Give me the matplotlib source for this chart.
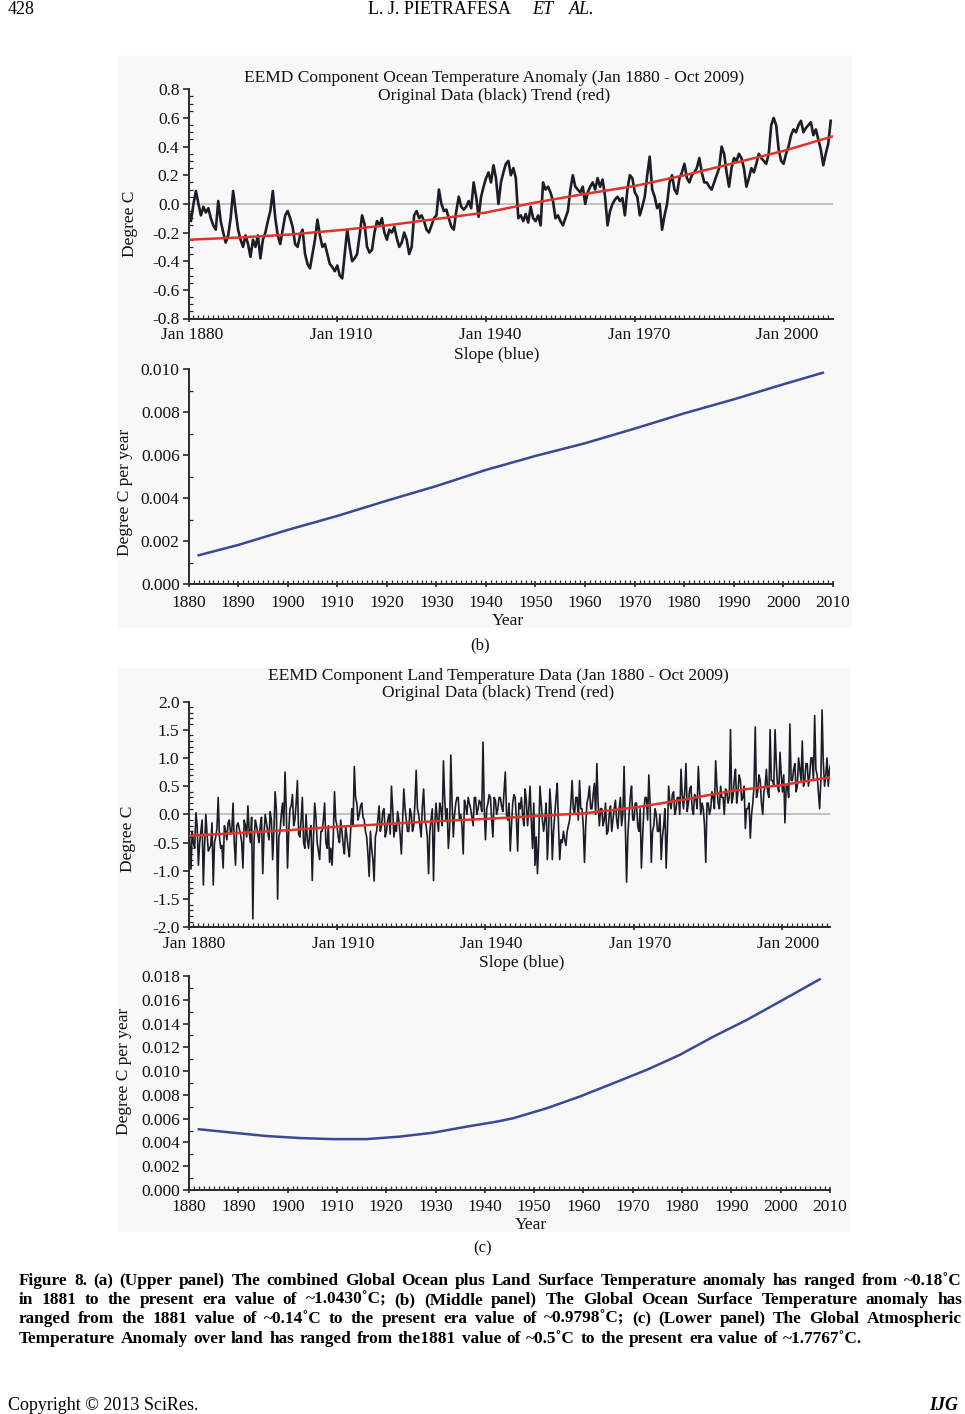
import numpy as np
import matplotlib
matplotlib.use('Agg')
import matplotlib.pyplot as plt
from matplotlib.ticker import MultipleLocator
from matplotlib.patches import Rectangle
from matplotlib.transforms import ScaledTranslation

plt.rcParams['font.family'] = ['Liberation Serif', 'DejaVu Serif']
plt.rcParams['axes.unicode_minus'] = False

# ---------------- data ----------------
# Ocean anomaly, half-year steps from 1880.0
ocean_values = [
    -0.05, -0.12, 0.00, 0.09, 0.00, -0.08, -0.02, -0.06, -0.03, -0.10,
    -0.15, -0.18, 0.02, -0.12, -0.20, -0.27, -0.22, -0.10, 0.09, -0.05,
    -0.18, -0.25, -0.30, -0.22, -0.28, -0.37, -0.25, -0.30, -0.22, -0.38,
    -0.25, -0.20, -0.12, -0.05, 0.09, -0.10, -0.22, -0.28, -0.18, -0.08,
    -0.05, -0.10, -0.16, -0.28, -0.30, -0.22, -0.18, -0.35, -0.42, -0.45,
    -0.35, -0.25, -0.11, -0.22, -0.30, -0.28, -0.35, -0.42, -0.44, -0.47,
    -0.43, -0.50, -0.52, -0.35, -0.18, -0.30, -0.40, -0.38, -0.35, -0.22,
    -0.08, -0.14, -0.30, -0.34, -0.32, -0.20, -0.12, -0.15, -0.10, -0.20,
    -0.25, -0.18, -0.20, -0.16, -0.24, -0.30, -0.27, -0.20, -0.25, -0.35,
    -0.30, -0.08, -0.05, -0.10, -0.08, -0.12, -0.18, -0.20, -0.15, -0.10,
    -0.08, 0.10, 0.00, -0.05, -0.04, -0.10, -0.16, -0.18, -0.05, 0.05,
    -0.02, -0.04, -0.02, 0.02, -0.03, 0.15, 0.05, -0.09, 0.05, 0.12,
    0.18, 0.22, 0.15, 0.27, 0.18, 0.00, 0.15, 0.22, 0.28, 0.30,
    0.20, 0.25, 0.18, -0.10, -0.08, -0.12, -0.07, -0.13, -0.02, -0.10,
    -0.12, -0.08, -0.15, 0.15, 0.10, 0.12, 0.08, 0.02, -0.10, -0.08,
    -0.12, -0.15, -0.10, -0.05, 0.10, 0.20, 0.12, 0.10, 0.08, 0.12,
    0.00, 0.08, 0.12, 0.15, 0.10, 0.18, 0.12, 0.17, 0.05, -0.15,
    -0.05, 0.00, 0.03, 0.05, 0.02, 0.04, -0.08, 0.10, 0.20, 0.18,
    0.08, 0.05, -0.08, -0.02, 0.05, 0.20, 0.33, 0.10, 0.05, -0.03,
    0.00, -0.18, -0.08, 0.00, 0.15, 0.20, 0.10, 0.07, 0.18, 0.22,
    0.28, 0.18, 0.15, 0.20, 0.22, 0.25, 0.32, 0.22, 0.15, 0.15,
    0.12, 0.10, 0.15, 0.20, 0.25, 0.40, 0.35, 0.22, 0.12, 0.25,
    0.32, 0.30, 0.35, 0.32, 0.25, 0.12, 0.18, 0.25, 0.22, 0.28,
    0.35, 0.32, 0.30, 0.28, 0.35, 0.55, 0.60, 0.55, 0.38, 0.30,
    0.28, 0.35, 0.40, 0.48, 0.52, 0.50, 0.55, 0.58, 0.50, 0.53,
    0.55, 0.57, 0.48, 0.52, 0.45, 0.38, 0.27, 0.35, 0.42, 0.58,
]
ocean_trend_years = [1880, 1890, 1900, 1910, 1920, 1930, 1940, 1950, 1960, 1970, 1980, 1990, 2000, 2009.75]
ocean_trend_values = [-0.25, -0.235, -0.215, -0.185, -0.15, -0.105, -0.06, 0.01, 0.07, 0.125, 0.20, 0.285, 0.37, 0.47]

ocean_slope_years = [1882, 1890, 1900, 1910, 1920, 1930, 1940, 1950, 1960, 1970, 1980, 1990, 2000, 2008]
ocean_slope_values = [0.00135, 0.00183, 0.00253, 0.00318, 0.00389, 0.00457, 0.00532, 0.00597, 0.00656,
                      0.00724, 0.00795, 0.00860, 0.00930, 0.00984]

# Land anomaly at whole/half years (1880.0, 1880.5, ...): peaks and spikes
land_values = [
    -0.2, -0.97, -0.5, 0.03, -0.9, -0.3, -1.25, 0.0, -0.65, -0.55,
    -1.25, -0.4, 0.3, -0.6, -0.95, -0.3, -0.15, -0.35, 0.2, -0.9,
    -0.15, -0.35, -0.95, -0.2, 0.15, -0.5, -1.85, -0.1, -0.35, -0.2,
    -1.05, 0.0, -0.3, 0.05, -0.8, 0.4, -1.5, -0.3, 0.2, 0.75,
    -0.95, 0.1, 0.35, -0.1, 0.6, -0.4, 0.3, -0.6, -0.45, -0.3,
    -1.17, 0.2, -0.5, -0.8, -0.3, 0.2, -0.6, -0.85, -0.9, 0.4,
    -0.2, -0.5, -0.3, -0.7, -0.4, -0.75, 0.1, 0.85, 0.2, 0.0,
    0.2, -0.1, -0.4, -1.1, -0.6, -1.18, -0.3, 0.15, -0.2, 0.1,
    -0.3, 0.0, 0.5, -0.4, -0.3, -0.1, -0.7, 0.45, -0.1, -0.3,
    0.0, -0.2, 0.78, 0.0, -0.4, 0.45, -0.2, -1.05, -0.1, -1.17,
    0.2, -0.3, 0.1, 0.95, -0.1, -0.6, 1.05, -0.4, 0.2, 0.3,
    0.0, -0.7, 0.15, 0.3, 0.1, -0.2, 0.3, 0.1, 0.2, 1.28,
    -0.45, 0.2, 0.3, -0.4, 0.25, 0.1, 0.3, 0.05, 0.75, -0.1,
    -0.65, 0.2, 0.3, -0.65, 0.1, 0.0, 0.45, -0.2, 0.5, -0.6,
    -0.9, -1.05, 0.5, -0.1, -0.1, -0.8, 0.45, -0.8, 0.0, 0.55,
    -0.8, -0.5, -0.45, -0.3, -0.1, 0.6, 0.0, 0.3, 0.6, 0.1,
    -0.85, 0.2, 0.5, 0.1, 0.55, 0.9, -0.2, 0.1, -0.1, -0.35,
    0.0, -0.3, 0.1, -0.1, 0.1, -0.2, 0.85, -1.2, 0.0, 0.5,
    -0.1, 0.2, -0.3, -0.95, 0.1, 0.3, 0.7, -0.85, -0.2, 0.0,
    -0.3, -0.8, -0.2, -0.95, 0.5, 0.1, 0.4, 0.1, 0.3, 0.8,
    0.1, 0.9, 0.2, 0.5, 0.0, 0.3, 0.85, 0.0, 0.1, -0.85,
    0.2, 0.1, 0.3, 0.95, 0.2, 0.5, 0.3, 0.45, 0.2, 1.5,
    0.3, 0.8, 0.4, 0.6, 0.3, -0.25, 0.1, -0.42, 0.2, 1.55,
    0.4, 0.6, 0.0, 0.5, 0.4, 1.5, 0.6, 1.5, 0.5, 1.1,
    0.4, -0.15, 0.5, 1.6, 0.6, 0.9, 0.5, 0.8, 1.3, 0.6,
    0.9, 0.7, 1.0, 1.75, 0.7, 0.1, 1.85, 0.5, 1.0, 0.8,
]
# Land anomaly at quarter offsets (1880.25, 1880.75, ...): dense core band
land_mid_values = [
    -0.45, -0.3, -0.6, -0.2, -0.5, -0.1, -0.55, -0.35, -0.6, -0.15,
    -0.5, -0.25, -0.4, -0.55, -0.2, -0.45, -0.1, -0.3, -0.5, -0.2,
    -0.25, -0.5, -0.1, -0.4, -0.3, -0.05, -0.45, -0.2, -0.5, -0.05,
    -0.35, -0.15, -0.45, -0.1, -0.3, 0.1, -0.4, 0.0, -0.2, 0.1,
    -0.3, 0.15, -0.2, 0.2, -0.35, -0.1, -0.5, 0.0, -0.6, -0.2,
    -0.4, -0.05, -0.65, -0.3, -0.1, -0.5, -0.2, -0.6, -0.4, -0.1,
    -0.4, -0.1, -0.55, -0.2, -0.6, -0.3, -0.2, 0.3, -0.1, 0.15,
    -0.05, -0.3, -0.7, -0.3, -0.8, -0.4, -0.1, -0.3, 0.05, -0.4,
    -0.1, -0.35, 0.1, -0.2, 0.05, -0.35, -0.1, 0.1, -0.3, 0.1,
    -0.3, 0.2, 0.1, -0.2, 0.15, -0.1, -0.4, -0.3, 0.1, -0.2,
    -0.1, 0.2, -0.2, 0.3, 0.1, -0.25, 0.2, 0.0, 0.3, -0.1,
    -0.2, 0.25, 0.0, 0.2, -0.05, 0.3, 0.0, 0.25, 0.05, 0.1,
    0.1, 0.35, -0.1, 0.3, 0.0, 0.3, 0.15, 0.4, 0.0, 0.2,
    -0.2, 0.35, -0.1, 0.2, 0.3, -0.2, 0.25, 0.1, -0.1, 0.2,
    -0.4, -0.5, 0.2, -0.3, 0.2, -0.3, 0.1, -0.3, 0.3, -0.2,
    -0.45, -0.3, -0.55, -0.2, 0.2, 0.1, 0.3, -0.1, 0.1, -0.2,
    -0.2, 0.3, 0.1, 0.35, 0.0, 0.2, 0.1, -0.2, 0.2, -0.3,
    0.15, -0.1, 0.25, -0.25, 0.3, 0.0, -0.2, -0.4, 0.3, -0.1,
    0.2, -0.2, 0.1, -0.4, 0.3, -0.1, 0.2, -0.3, 0.1, -0.3,
    0.0, -0.4, 0.1, -0.3, 0.2, 0.35, 0.0, 0.3, 0.0, 0.35,
    0.4, 0.05, 0.45, 0.1, 0.35, 0.1, 0.4, 0.2, -0.2, 0.2,
    0.0, 0.4, 0.1, 0.5, 0.1, 0.3, 0.0, 0.4, 0.3, 0.2,
    0.6, 0.2, 0.7, 0.25, 0.5, 0.1, 0.2, 0.0, 0.5, 0.3,
    0.7, 0.2, 0.4, 0.8, 0.3, 0.6, 0.5, 0.9, 0.4, 0.7,
    0.7, 0.5, 0.3, 0.6, 0.8, 0.4, 1.0, 0.6, 0.5, 0.9,
    0.5, 1.0, 0.6, 0.8, 0.4, 0.6, 0.9, 0.7, 0.5, 0.9,
]
land_trend_years = [1880, 1890, 1900, 1910, 1920, 1930, 1940, 1950, 1960, 1970, 1980, 1990, 2000, 2009.75]
land_trend_values = [-0.38, -0.33, -0.28, -0.22, -0.17, -0.12, -0.08, -0.03, 0.02, 0.12, 0.26, 0.42, 0.52, 0.66]

land_slope_years = [1882, 1888.9, 1895.7, 1902.5, 1909.2, 1916, 1922.7, 1929.5, 1936.3, 1942.4,
                    1945.7, 1952.5, 1959.2, 1966.0, 1972.8, 1979.5, 1986.3, 1993.1, 1999.8, 2007.9]
land_slope_values = [0.00511, 0.00482, 0.00454, 0.00437, 0.00428, 0.00428, 0.00449, 0.00482, 0.00533, 0.00575,
                     0.00603, 0.00687, 0.00785, 0.00897, 0.0101, 0.01136, 0.01289, 0.0143, 0.01584, 0.01772]

ocean_ticks = [1880, 1910, 1940, 1970, 2000]
ocean_ticklabels = ['Jan 1880', 'Jan 1910', 'Jan 1940', 'Jan 1970', 'Jan 2000']
year_ticks = list(range(1880, 2011, 10))

caption_lines = [
    "Figure 8. (a) (Upper panel) The combined Global Ocean plus Land Surface Temperature anomaly has ranged from ~0.18\u02daC",
    "in 1881 to the present era value of ~1.0430\u02daC; (b) (Middle panel) The Global Ocean Surface Temperature anomaly has",
    "ranged from the 1881 value of ~0.14\u02daC to the present era value of ~0.9798\u02daC; (c) (Lower panel) The Global Atmospheric",
    "Temperature Anomaly over land has ranged from the1881 value of ~0.5\u02daC to the present era value of ~1.7767\u02daC.",
]

# ---------------- figure ----------------
W, H = 965, 1414
fig = plt.figure(figsize=(W / 100, H / 100), dpi=100)
fig.patch.set_facecolor('white')

def fx(px):
    return px / W

def fy(py):
    return 1 - py / H

def add_axes(l, r, t, b):
    ax = fig.add_axes([fx(l), fy(b), (r - l) / W, (b - t) / H])
    ax.set_facecolor('none')
    ax.set_zorder(2)
    return ax

# faint grey image backgrounds
for (l, t, r, b) in [(118, 55, 852, 628), (118, 668, 850, 1232)]:
    fig.patches.append(Rectangle((fx(l), fy(b)), (r - l) / W, (b - t) / H,
                                 transform=fig.transFigure, facecolor='#f8f8f8',
                                 edgecolor='none', zorder=-5))

BLACK = '#1b1e24'
RED = '#e0332b'
BLUE = '#3b4896'
GREY = '#b8b8b8'
AX = '#2a2a2a'
TFS = 12.5

def style(ax, xpad, ypad=2.5, xshift=0):
    for s in ['top', 'right']:
        ax.spines[s].set_visible(False)
    for s in ['left', 'bottom']:
        ax.spines[s].set_color(AX)
        ax.spines[s].set_linewidth(1.4)
    ax.tick_params(axis='y', which='major', direction='out', length=4, width=1.2,
                   colors=AX, labelsize=TFS, pad=ypad, labelcolor='#111111')
    ax.tick_params(axis='y', which='minor', direction='in', length=3, width=0.9, colors=AX)
    ax.tick_params(axis='x', which='major', direction='inout', length=5, width=1.2,
                   colors=AX, labelsize=TFS, pad=xpad, labelcolor='#111111')
    ax.tick_params(axis='x', which='minor', direction='in', length=3, width=0.9, colors=AX)
    ax.xaxis.set_minor_locator(MultipleLocator(1))
    if xshift:
        off = ScaledTranslation(xshift / 100, 0, fig.dpi_scale_trans)
        for lab in ax.get_xticklabels():
            lab.set_transform(lab.get_transform() + off)

# ---- Panel 1: ocean anomaly ----
ax1 = add_axes(188.5, 832.7, 89.3, 318.5)
oy = 1880 + 0.5 * np.arange(len(ocean_values))
ax1.axhline(0, color=GREY, lw=1.2, zorder=1)
ax1.plot(oy, ocean_values, color=BLACK, lw=1.9, zorder=2)
ax1.plot(ocean_trend_years, ocean_trend_values, color=RED, lw=1.8, zorder=3)
ax1.set_xlim(1880, 2009.9)
ax1.set_ylim(-0.8, 0.8)
yt1 = np.arange(-0.8, 0.81, 0.2)
ax1.set_yticks(yt1)
ax1.set_yticklabels(['%.1f' % v if abs(v) > 1e-9 else '0.0' for v in yt1])
ax1.yaxis.set_minor_locator(MultipleLocator(0.05))
ax1.set_xticks(ocean_ticks)
ax1.set_xticklabels(ocean_ticklabels)
style(ax1, xpad=3.8, xshift=4)

# ---- Panel 2: ocean slope ----
ax2 = add_axes(188.7, 832.7, 369.3, 584.3)
ax2.plot(ocean_slope_years, ocean_slope_values, color=BLUE, lw=1.8)
ax2.set_xlim(1880, 2010)
ax2.set_ylim(0, 0.010)
yt2 = np.arange(0, 0.0101, 0.002)
ax2.set_yticks(yt2)
ax2.set_yticklabels(['%.3f' % v for v in yt2])
ax2.yaxis.set_minor_locator(MultipleLocator(0.001))
ax2.set_xticks(year_ticks)
ax2.set_xticklabels([str(y) for y in year_ticks])
style(ax2, xpad=5)

# ---- Panel 3: land anomaly ----
ax3 = add_axes(188.5, 830, 701.5, 927.3)
land_all = np.empty(len(land_values) + len(land_mid_values))
land_all[0::2] = land_values
land_all[1::2] = land_mid_values
ly = 1880 + 0.25 * np.arange(len(land_all))
ax3.axhline(0, color=GREY, lw=1.2, zorder=1)
ax3.plot(ly, land_all, color=BLACK, lw=1.2, zorder=2)
ax3.plot(land_trend_years, land_trend_values, color=RED, lw=1.8, zorder=3)
ax3.set_xlim(1880, 2009.6)
ax3.set_ylim(-2.0, 2.0)
yt3 = np.arange(-2.0, 2.01, 0.5)
ax3.set_yticks(yt3)
ax3.set_yticklabels(['%.1f' % v if abs(v) > 1e-9 else '0.0' for v in yt3])
ax3.yaxis.set_minor_locator(MultipleLocator(0.1))
ax3.set_xticks(ocean_ticks)
ax3.set_xticklabels(ocean_ticklabels)
style(ax3, xpad=4, xshift=6)

# ---- Panel 4: land slope ----
ax4 = add_axes(189, 830, 976, 1190)
ax4.plot(land_slope_years, land_slope_values, color=BLUE, lw=1.8)
ax4.set_xlim(1880, 2010)
ax4.set_ylim(0, 0.018)
yt4 = np.arange(0, 0.0181, 0.002)
ax4.set_yticks(yt4)
ax4.set_yticklabels(['%.3f' % v for v in yt4])
ax4.yaxis.set_minor_locator(MultipleLocator(0.001))
ax4.set_xticks(year_ticks)
ax4.set_xticklabels([str(y) for y in year_ticks])
style(ax4, xpad=4)

# ---------------- texts ----------------
def t(x, y, s, **kw):
    kw.setdefault('ha', 'center')
    kw.setdefault('va', 'center')
    kw.setdefault('fontsize', TFS)
    kw.setdefault('color', '#111111')
    return fig.text(fx(x), fy(y), s, **kw)

t(494, 78, 'EEMD Component Ocean Temperature Anomaly (Jan 1880 - Oct 2009)')
t(494, 96, 'Original Data (black) Trend (red)')
t(130, 224, 'Degree C', rotation=90)
t(497, 355, 'Slope (blue)')
t(125, 492, 'Degree C per year', rotation=90)
t(508, 621, 'Year')
t(480, 645, '(b)', fontsize=12)

t(498, 676, 'EEMD Component Land Temperature Data (Jan 1880 - Oct 2009)')
t(498, 693, 'Original Data (black) Trend (red)')
t(128, 839, 'Degree C', rotation=90)
t(522, 963, 'Slope (blue)')
t(124, 1071, 'Degree C per year', rotation=90)
t(531, 1225, 'Year')
t(483, 1248, '(c)', fontsize=12)

# header / footer
t(8, 10, '428', ha='left', fontsize=13, color='black')
t(368, 10, 'L. J. PIETRAFESA', ha='left', fontsize=13, color='black')
t(532, 10, 'ET', ha='left', fontsize=13, style='italic', color='black')
t(569, 10, 'AL.', ha='left', fontsize=13, style='italic', color='black')
t(8, 1406, 'Copyright \u00a9 2013 SciRes.', ha='left', fontsize=13, color='black')
t(958, 1406, 'IJG', ha='right', fontsize=13, style='italic', fontweight='bold', color='black')

# justified caption (last line ends short, as in the reference)
renderer = fig.canvas.get_renderer()
cap_fs = 12.4
cap_base = [1285, 1304, 1323, 1343]
cap_ends = [962, 962, 962, 862]
x0 = 19
for line, yy, x1 in zip(caption_lines, cap_base, cap_ends):
    words = line.split(' ')
    txts = [fig.text(0, fy(yy), w, fontsize=cap_fs, fontweight='bold', ha='left',
                     va='baseline', color='black') for w in words]
    widths = [tx.get_window_extent(renderer).width for tx in txts]
    gap = (x1 - x0 - sum(widths)) / (len(words) - 1)
    x = x0
    for tx, w in zip(txts, widths):
        tx.set_x(fx(x))
        x += w + gap

fig.savefig('out.png', dpi=100, facecolor='white')
